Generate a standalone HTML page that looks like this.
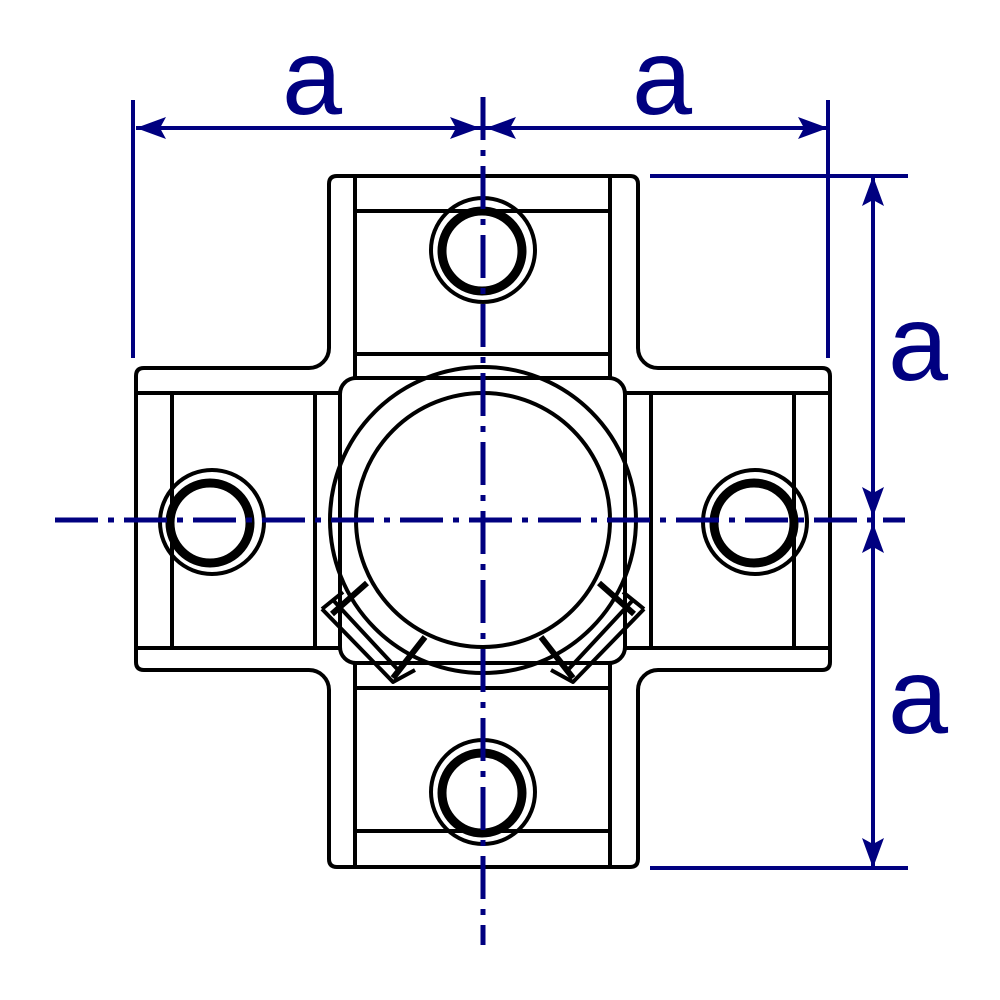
<!DOCTYPE html>
<html><head><style>html,body{margin:0;padding:0;background:#fff}svg{display:block}</style></head>
<body>
<svg width="1000" height="1000" viewBox="0 0 1000 1000" xmlns="http://www.w3.org/2000/svg">
<g fill="none" stroke="#000" stroke-width="4" stroke-linejoin="round">
<path d="M337,176 H630 Q638,176 638,184 V348 A20,20 0 0 0 658,368 H822 Q830,368 830,376 V662 Q830,670 822,670 H658 A20,20 0 0 0 638,690 V859 Q638,867 630,867 H337 Q329,867 329,859 V690 A20,20 0 0 0 309,670 H144 Q136,670 136,662 V376 Q136,368 144,368 H309 A20,20 0 0 0 329,348 V184 Q329,176 337,176Z"/>
<!-- top arm -->
<path d="M355,176 V380 M610,176 V380 M355,211 H610 M355,354 H610"/>
<!-- bottom arm -->
<path d="M355,662 V867 M610,662 V867 M355,688 H610 M355,831 H610"/>
<!-- left arm -->
<path d="M136,393 H341 M136,648 H341 M172,393 V648 M315,393 V648"/>
<!-- right arm -->
<path d="M626,393 H830 M626,648 H830 M651,393 V648 M794,393 V648"/>
<rect x="340" y="378" width="285" height="285" rx="16" fill="#fff"/>
<circle cx="483" cy="520" r="153"/>
<circle cx="483" cy="520" r="127"/>
<!-- notches -->
<path d="M322,609 L343,592 M322,609 L393,682 L415,670 M333,600 L400,672"/>
<path d="M332,614 L367,583 M393,678 L425,637" stroke-width="6"/>
<path d="M644,609 L623,592 M644,609 L573,682 L551,670 M633,600 L566,672"/>
<path d="M634,614 L599,583 M573,678 L541,637" stroke-width="6"/>
<!-- bolts -->
<circle cx="483" cy="250" r="52"/><circle cx="482" cy="251" r="40" stroke-width="9"/>
<circle cx="483" cy="792" r="52"/><circle cx="482" cy="793" r="40" stroke-width="9"/>
<circle cx="212" cy="522" r="52"/><circle cx="210" cy="523" r="40" stroke-width="9"/>
<circle cx="755" cy="522" r="52"/><circle cx="754" cy="523" r="40" stroke-width="9"/>
</g>
<g stroke="#000080" fill="none">
<path d="M483,97 V945 M55,520 H905" stroke-width="5" stroke-dasharray="43 10 6 10"/>
<path d="M133,100 V358 M828,100 V358 M650,176 H908 M650,868 H908 M136,128 H828 M873,176 V868" stroke-width="4"/>
</g>
<g fill="#000080">
<path d="M136,128 L166,117 L160,128 L166,139Z"/>
<path d="M480,128 L450,117 L456,128 L450,139Z"/>
<path d="M486,128 L516,117 L510,128 L516,139Z"/>
<path d="M828,128 L798,117 L804,128 L798,139Z"/>
<path d="M873,176 L862,206 L873,200 L884,206Z"/>
<path d="M873,517 L862,487 L873,493 L884,487Z"/>
<path d="M873,523 L862,553 L873,547 L884,553Z"/>
<path d="M873,868 L862,838 L873,844 L884,838Z"/>
</g>
<g fill="#000080" font-family="Liberation Sans, sans-serif" font-size="108" text-anchor="middle">
<text x="312" y="114">a</text>
<text x="662" y="114">a</text>
<text x="918" y="380">a</text>
<text x="918" y="733">a</text>
</g>
</svg>
</body></html>
